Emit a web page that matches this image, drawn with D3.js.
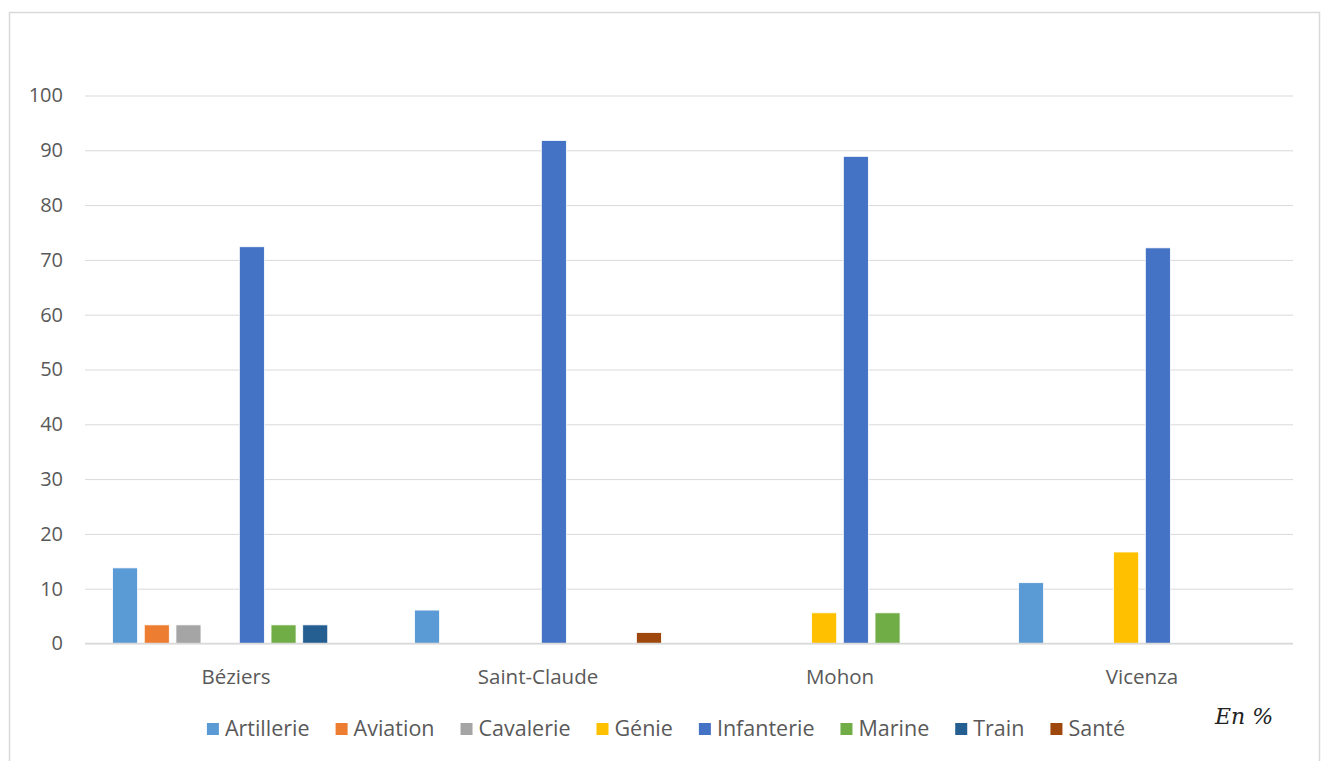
<!DOCTYPE html>
<html><head><meta charset="utf-8">
<script src="https://cdn.jsdelivr.net/npm/d3@7"></script>
<style>body{margin:0;background:#fff}svg{display:block}</style>
</head><body>
<svg id="chart" width="1329" height="761"></svg>
<script>
const categories = ["Béziers", "Saint-Claude", "Mohon", "Vicenza"];
const seriesNames = ["Artillerie", "Aviation", "Cavalerie", "Génie", "Infanterie", "Marine", "Train", "Santé"];
const seriesColors = ["#5B9BD5", "#ED7D31", "#A5A5A5", "#FFC000", "#4472C4", "#70AD47", "#255E91", "#9E480E"];
const artillerie = [13.8, 6.1, 0, 11.1];
const aviation   = [3.4, 0, 0, 0];
const cavalerie  = [3.4, 0, 0, 0];
const genie      = [0, 0, 5.6, 16.7];
const infanterie = [72.4, 91.8, 88.9, 72.2];
const marine     = [3.4, 0, 5.6, 0];
const train      = [3.4, 0, 0, 0];
const sante      = [0, 2.0, 0, 0];
const yTicks = [0, 10, 20, 30, 40, 50, 60, 70, 80, 90, 100];
const unitNote = "En %";

const seriesValues = [artillerie, aviation, cavalerie, genie, infanterie, marine, train, sante];

const svg = d3.select("#chart");
const plot = {left: 85, right: 1293, top: 95.5, bottom: 643.5};
const textColor = "#595959";
const gridColor = "#D9D9D9";
const font = "'Open Sans', sans-serif";

svg.append("rect").attr("x", 9.5).attr("y", 12.5).attr("width", 1310).attr("height", 770)
  .attr("fill", "#fff").attr("stroke", gridColor).attr("stroke-width", 1.5);

const y = d3.scaleLinear().domain([0, 100]).range([plot.bottom, plot.top]);
const x0 = d3.scaleBand().domain(categories).range([plot.left, plot.right]).paddingInner(0).paddingOuter(0);
const x1 = d3.scaleBand().domain(seriesNames).range([0, x0.bandwidth()]).paddingInner(0.21).paddingOuter(0.87);

// gridlines + tick labels
const yAxis = d3.axisLeft(y).tickValues(yTicks).tickSize(-(plot.right - plot.left)).tickPadding(22);
const ga = svg.append("g").attr("transform", `translate(${plot.left},0)`).call(yAxis);
ga.select(".domain").remove();
ga.selectAll(".tick line").attr("stroke", gridColor).attr("stroke-width", 1);
ga.selectAll(".tick text").attr("fill", textColor).style("font-family", font).style("font-size", "20px");

// bars
const groups = svg.append("g").selectAll("g").data(categories).join("g")
  .attr("transform", d => `translate(${x0(d)},0)`);
groups.selectAll("rect")
  .data((c, ci) => seriesNames.map((s, si) => ({s, v: seriesValues[si][ci], color: seriesColors[si]})).filter(d => d.v > 0))
  .join("rect")
  .attr("x", d => x1(d.s))
  .attr("width", x1.bandwidth())
  .attr("y", d => y(d.v))
  .attr("height", d => y(0) - y(d.v))
  .attr("fill", d => d.color)
  .attr("stroke", "#fff").attr("stroke-width", 0.8);

// baseline
svg.append("line").attr("x1", plot.left).attr("x2", plot.right).attr("y1", y(0)).attr("y2", y(0))
  .attr("stroke", gridColor).attr("stroke-width", 1.5);

// category labels
const xAxis = d3.axisBottom(x0).tickSize(0).tickPadding(26);
const gx = svg.append("g").attr("transform", `translate(0,${plot.bottom})`).call(xAxis);
gx.select(".domain").remove();
gx.selectAll(".tick text").attr("fill", textColor).style("font-family", font).style("font-size", "20.5px");

// legend
const legend = svg.append("g");
const items = legend.selectAll("g").data(seriesNames).join("g");
items.append("rect").attr("width", 12).attr("height", 12).attr("y", -13)
  .attr("fill", (d, i) => seriesColors[i]);
items.append("text").attr("x", 18).attr("y", 0).text(d => d)
  .attr("fill", textColor).style("font-family", font).style("font-size", "21.5px");
let cx = 0;
const itemGap = 26;
items.each(function () {
  const w = this.querySelector("text").getComputedTextLength();
  d3.select(this).attr("transform", `translate(${cx},0)`);
  cx += 18 + w + itemGap;
});
const totalW = cx - itemGap;
legend.attr("transform", `translate(${(215 + 1117) / 2 - totalW / 2},736)`);

// unit note
svg.append("text").attr("x", 1215).attr("y", 724).text(unitNote)
  .style("font-family", "'DejaVu Serif', serif").style("font-style", "italic").style("font-size", "22px")
  .attr("fill", "#222");
</script>
</body></html>
